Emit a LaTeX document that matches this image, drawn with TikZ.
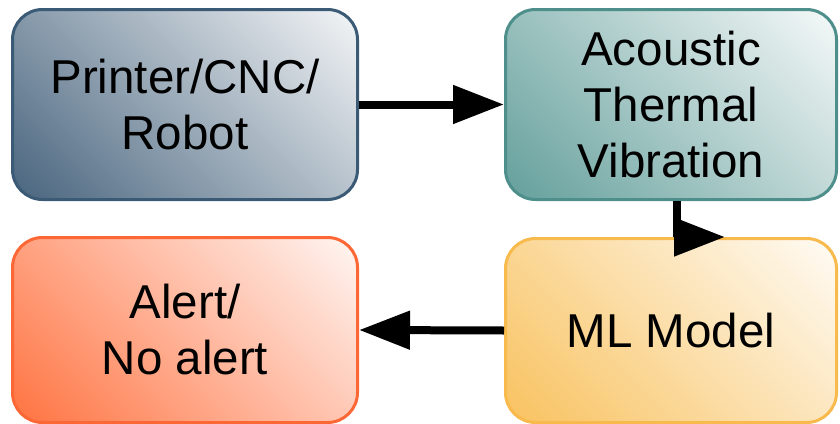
\documentclass[tikz,border=0pt]{standalone}
\usepackage{fontspec}
\setmainfont{Liberation Sans}
\usetikzlibrary{arrows.meta,calc}

\definecolor{slateC}{HTML}{3D5B76}
\definecolor{slateB}{HTML}{3A5A75}
\definecolor{tealC}{HTML}{5A9995}
\definecolor{tealB}{HTML}{4E8F8B}
\definecolor{amberC}{HTML}{F8BE55}
\definecolor{amberB}{HTML}{F8BA4C}
\definecolor{coralC}{HTML}{FF6A35}
\definecolor{coralB}{HTML}{FC6736}

% Corner-to-corner fades: the rotated axis runs from the lower-left
% corner (base colour) to the upper-right corner (white).
\pgfdeclareverticalshading{fadeslate}{100bp}{color(0bp)=(slateC); color(10bp)=(slateC); color(90bp)=(white); color(100bp)=(white)}
\pgfdeclareverticalshading{fadeteal}{100bp}{color(0bp)=(tealC); color(10bp)=(tealC); color(90bp)=(white); color(100bp)=(white)}
\pgfdeclareverticalshading{fadeamber}{100bp}{color(0bp)=(amberC); color(10bp)=(amberC); color(90bp)=(white); color(100bp)=(white)}
\pgfdeclareverticalshading{fadecoral}{100bp}{color(0bp)=(coralC); color(10bp)=(coralC); color(90bp)=(white); color(100bp)=(white)}

\tikzset{
  box/.style={draw, line width=3pt, rounded corners=30pt, anchor=north west,
    inner sep=0pt, align=center,
    font=\fontsize{47.5}{56}\selectfont},
  boxfill/.style={shade, shading=#1, shading angle=-45},
  arr/.style={line width=8pt, -{Triangle[length=51pt,width=37pt]}},
}

\begin{document}
\begin{tikzpicture}[x=1pt,y=-1pt]
  \useasboundingbox (0,0) rectangle (840,423);

  \node[box, boxfill=fadeslate, draw=slateB, minimum width=345pt, minimum height=190pt]
    (src) at (11,8) {Printer/CNC/\\Robot};
  \node[box, boxfill=fadeteal, draw=tealB, minimum width=331pt, minimum height=190pt]
    (sens) at (504,8) {Acoustic\\Thermal\\Vibration};
  \node[box, boxfill=fadeamber, draw=amberB, minimum width=331pt, minimum height=184pt]
    (ml) at (504,237) {ML Model};
  \node[box, boxfill=fadecoral, draw=coralB, minimum width=345pt, minimum height=185pt]
    (alert) at (11,236) {Alert/\\No alert};

  \coordinate (bend) at (677,237);
  \coordinate (tip) at (725,237);

  \draw[arr] (src.east) -- (sens.west);
  \draw[arr] (sens.south -| bend) -- (bend) -- (tip);
  \draw[arr] (ml.west) -- (alert.east);
\end{tikzpicture}
\end{document}
